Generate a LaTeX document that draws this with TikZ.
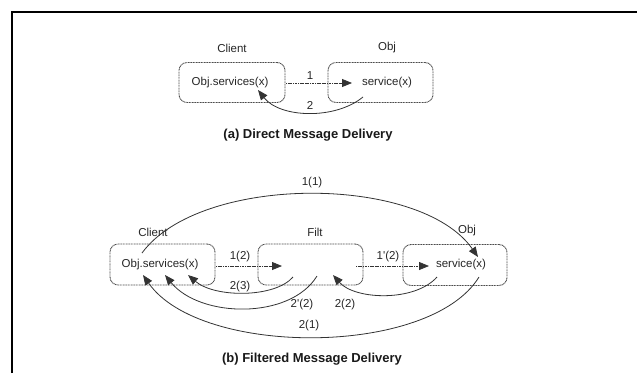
\documentclass[tikz,border=0pt]{standalone}
\usepackage{fontspec}
\setmainfont{Liberation Sans}
\usetikzlibrary{arrows.meta}
\begin{document}
\begin{tikzpicture}[x=1pt,y=-1pt,
  txt/.style={inner sep=0pt,font=\fontsize{11.5}{13}\selectfont,text=black!85},
  captiontxt/.style={inner sep=0pt,font=\fontsize{13}{15}\selectfont\bfseries,text=black!90},
  objbox/.style={draw=black!70,line width=0.9pt,dash pattern=on 1pt off 0.6pt,rounded corners=8pt,inner sep=0pt,minimum height=40pt},
  msg/.style={draw=black!80,line width=0.8pt,-{Triangle[length=10pt,width=8pt]}},
  straightmsg/.style={msg,dash pattern=on 1.2pt off 0.5pt}]
\useasboundingbox (0,0) rectangle (637,373);
% frame
\coordinate (fb) at (12,373);
\coordinate (fc) at (12,12);
\coordinate (fr) at (637,12);
\draw[line width=2.5pt] (fb) -- (fc) -- (fr);

% ---------- (a) ----------
\node[txt] (clA) at (232,48) {Client};
\node[txt] (obA) at (387,48) {Obj};
\node[objbox,minimum width=106pt] (cboxA) at (232,82.5) {};
\node[objbox,minimum width=105pt] (oboxA) at (380.5,82.5) {};
\node[txt] (callA) at (230,83) {Obj.services(x)};
\node[txt] (servA) at (387,83) {service(x)};
\coordinate (a1s) at (286,83);
\coordinate (a1e) at (352,83);
\coordinate (a2s) at (363,97);
\coordinate (a2e) at (258,90);
\draw[straightmsg] (a1s) -- (a1e);
\draw[msg] (a2s) .. controls (335,120) and (280,118) .. (a2e);
\node[txt] (l1A) at (310,76) {1};
\node[txt] (l2A) at (310,105) {2};
\node[captiontxt] (capA) at (308,135) {(a) Direct Message Delivery};

% ---------- (b) ----------
\node[txt] (clB) at (153,232) {Client};
\node[txt] (fiB) at (315,232) {Filt};
\node[txt] (obB) at (467,231) {Obj};
\node[objbox,minimum width=105pt,minimum height=41pt] (cboxB) at (162.5,264.5) {};
\node[objbox,minimum width=105pt,minimum height=41pt] (fboxB) at (310.5,264.5) {};
\node[objbox,minimum width=104pt,minimum height=41pt] (oboxB) at (455,265) {};
\node[txt] (callB) at (160,265) {Obj.services(x)};
\node[txt] (servB) at (461,265) {service(x)};

\coordinate (b12s) at (216,266);
\coordinate (b12e) at (282,266);
\coordinate (b1ps) at (356,266);
\coordinate (b1pe) at (429,266);
\coordinate (b11s) at (142,253);
\coordinate (b11e) at (478,257);
\coordinate (b23s) at (293,277);
\coordinate (b23e) at (188,275);
\coordinate (b2ps) at (317,276);
\coordinate (b2pe) at (165,275);
\coordinate (b22s) at (437,277);
\coordinate (b22e) at (333,275);
\coordinate (b21s) at (479,277);
\coordinate (b21e) at (143,275);

\draw[straightmsg] (b12s) -- (b12e);
\draw[straightmsg] (b1ps) -- (b1pe);
\draw[msg] (b11s) .. controls (200,174) and (420,174) .. (b11e);
\draw[msg] (b23s) .. controls (275,298) and (215,298) .. (b23e);
\draw[msg] (b2ps) .. controls (290,320) and (200,318) .. (b2pe);
\draw[msg] (b22s) .. controls (415,302) and (355,300) .. (b22e);
\draw[msg] (b21s) .. controls (430,357) and (200,357) .. (b21e);

\node[txt] (l11) at (312,183) {1(1)};
\node[txt] (l12) at (240,257) {1(2)};
\node[txt] (l1p) at (388,257) {1\textquotesingle(2)};
\node[txt] (l23) at (240,287) {2(3)};
\node[txt] (l2p) at (302,305) {2\textquotesingle(2)};
\node[txt] (l22) at (345,305) {2(2)};
\node[txt] (l21) at (309,326) {2(1)};
\node[captiontxt] (capB) at (312,359) {(b) Filtered Message Delivery};
\end{tikzpicture}
\end{document}
